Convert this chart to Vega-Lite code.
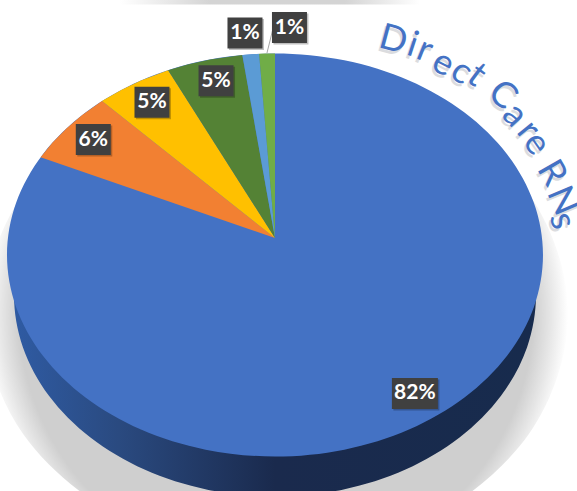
{
  "$schema": "https://vega.github.io/schema/vega-lite/v6.json",
  "width": 577,
  "height": 491,
  "padding": 0,
  "autosize": {"type": "none"},
  "background": "white",
  "view": {"stroke": null},
  "config": {"axis": {"disable": true}},
  "datasets": {
    "shadow": [
      {"seq":0,"x":0.0037,"y":0.8983},{"seq":1,"x":0.5485,"y":0.7387},{"seq":2,"x":0.9473,"y":0.3028},{"seq":3,"x":1.0933,"y":-0.2928},{"seq":4,"x":0.9473,"y":-0.8884},{"seq":5,"x":0.5485,"y":-1.3243},{"seq":6,"x":0.0037,"y":-1.4839},{"seq":7,"x":-0.5411,"y":-1.3243},{"seq":8,"x":-0.9399,"y":-0.8884},{"seq":9,"x":-1.0859,"y":-0.2928},{"seq":10,"x":-0.9399,"y":0.3028},{"seq":11,"x":-0.5411,"y":0.7387}
    ],
    "wall": [
      {"seq":0,"x":0,"y":0.8015},{"seq":1,"x":0.2521,"y":0.7674},{"seq":2,"x":0.4870,"y":0.6675},{"seq":3,"x":0.6886,"y":0.5086},{"seq":4,"x":0.8434,"y":0.3015},{"seq":5,"x":0.9407,"y":0.0603},{"seq":6,"x":0.9739,"y":-0.1985},{"seq":7,"x":0.9407,"y":-0.4573},{"seq":8,"x":0.8434,"y":-0.6985},{"seq":9,"x":0.6886,"y":-0.9056},{"seq":10,"x":0.4870,"y":-1.0645},{"seq":11,"x":0.2521,"y":-1.1644},{"seq":12,"x":0,"y":-1.1985},{"seq":13,"x":-0.2521,"y":-1.1644},{"seq":14,"x":-0.4870,"y":-1.0645},{"seq":15,"x":-0.6886,"y":-0.9056},{"seq":16,"x":-0.8434,"y":-0.6985},{"seq":17,"x":-0.9407,"y":-0.4573},{"seq":18,"x":-0.9739,"y":-0.1985},{"seq":19,"x":-0.9407,"y":0.0603},{"seq":20,"x":-0.8434,"y":0.3015},{"seq":21,"x":-0.6886,"y":0.5086},{"seq":22,"x":-0.4870,"y":0.6675},{"seq":23,"x":-0.2521,"y":0.7674}
    ],
    "face": [
      {"seq":0,"x":0,"y":1},{"seq":1,"x":0.2588,"y":0.9659},{"seq":2,"x":0.5,"y":0.866},{"seq":3,"x":0.7071,"y":0.7071},{"seq":4,"x":0.866,"y":0.5},{"seq":5,"x":0.9659,"y":0.2588},{"seq":6,"x":1,"y":0},{"seq":7,"x":0.9659,"y":-0.2588},{"seq":8,"x":0.866,"y":-0.5},{"seq":9,"x":0.7071,"y":-0.7071},{"seq":10,"x":0.5,"y":-0.866},{"seq":11,"x":0.2588,"y":-0.9659},{"seq":12,"x":0,"y":-1},{"seq":13,"x":-0.2588,"y":-0.9659},{"seq":14,"x":-0.5,"y":-0.866},{"seq":15,"x":-0.7071,"y":-0.7071},{"seq":16,"x":-0.866,"y":-0.5},{"seq":17,"x":-0.9659,"y":-0.2588},{"seq":18,"x":-1,"y":0},{"seq":19,"x":-0.9659,"y":0.2588},{"seq":20,"x":-0.866,"y":0.5},{"seq":21,"x":-0.7071,"y":0.7071},{"seq":22,"x":-0.5,"y":0.866},{"seq":23,"x":-0.2588,"y":0.9659}
    ],
    "slices": [
      {"slice":"B","seq":0,"x":0,"y":0.0844},{"slice":"B","seq":1,"x":-0.8746,"y":0.4848},{"slice":"B","seq":2,"x":-0.8290,"y":0.5592},{"slice":"B","seq":3,"x":-0.7771,"y":0.6293},{"slice":"B","seq":4,"x":-0.7193,"y":0.6947},{"slice":"B","seq":5,"x":-0.6455,"y":0.7638},
      {"slice":"C","seq":0,"x":0,"y":0.0844},{"slice":"C","seq":1,"x":-0.6455,"y":0.7638},{"slice":"C","seq":2,"x":-0.5736,"y":0.8192},{"slice":"C","seq":3,"x":-0.5,"y":0.866},{"slice":"C","seq":4,"x":-0.3987,"y":0.9171},
      {"slice":"D","seq":0,"x":0,"y":0.0844},{"slice":"D","seq":1,"x":-0.3987,"y":0.9171},{"slice":"D","seq":2,"x":-0.3256,"y":0.9455},{"slice":"D","seq":3,"x":-0.2419,"y":0.9703},{"slice":"D","seq":4,"x":-0.1219,"y":0.9925},
      {"slice":"E","seq":0,"x":0,"y":0.0844},{"slice":"E","seq":1,"x":-0.1219,"y":0.9925},{"slice":"E","seq":2,"x":-0.0872,"y":0.9962},{"slice":"E","seq":3,"x":-0.0593,"y":0.9982},
      {"slice":"F","seq":0,"x":0,"y":0.0844},{"slice":"F","seq":1,"x":-0.0593,"y":0.9982},{"slice":"F","seq":2,"x":-0.0349,"y":0.9994},{"slice":"F","seq":3,"x":0,"y":1}
    ],
    "labels": [
      {"slice":"A","share":82,"label":"82%","x":0.522,"y":-0.687},
      {"slice":"B","share":6,"label":"6%","x":-0.678,"y":0.573},
      {"slice":"C","share":5,"label":"5%","x":-0.459,"y":0.758},
      {"slice":"D","share":5,"label":"5%","x":-0.220,"y":0.865},
      {"slice":"E","share":1,"label":"1%","x":-0.112,"y":1.102},
      {"slice":"F","share":1,"label":"1%","x":0.054,"y":1.129}
    ],
    "leader": [
      {"seq":0,"x":-0.007,"y":1.126},
      {"seq":1,"x":-0.030,"y":1.002}
    ],
    "title": [
      {"ch":"D","x":0.4415,"y":1.067,"rot":15},
      {"ch":"i","x":0.5136,"y":1.042,"rot":18},
      {"ch":"r","x":0.5597,"y":1.017,"rot":22},
      {"ch":"e","x":0.628,"y":0.951,"rot":27},
      {"ch":"c","x":0.6965,"y":0.910,"rot":32},
      {"ch":"t","x":0.7525,"y":0.893,"rot":37},
      {"ch":"C","x":0.8495,"y":0.794,"rot":42},
      {"ch":"a","x":0.8955,"y":0.695,"rot":47},
      {"ch":"r","x":0.9452,"y":0.620,"rot":51},
      {"ch":"e","x":0.9764,"y":0.554,"rot":55},
      {"ch":"R","x":1.032,"y":0.407,"rot":60},
      {"ch":"N","x":1.072,"y":0.269,"rot":67},
      {"ch":"s","x":1.072,"y":0.170,"rot":74}
    ],
    "band": [
      {"x":-0.578,"x2":0.541,"y":1.2655,"y2":1.2432}
    ]
  },
  "encoding": {
    "x": {"field": "x", "type": "quantitative", "axis": null, "scale": {"domain": [-1.0261, 1.1269], "nice": false, "zero": false}},
    "y": {"field": "y", "type": "quantitative", "axis": null, "scale": {"domain": [-1.1712, 1.2655], "nice": false, "zero": false}}
  },
  "layer": [
    {
      "data": {"name": "shadow"},
      "mark": {"type": "line", "interpolate": "cardinal-closed", "tension": 0, "strokeWidth": 0,
        "fill": {"gradient": "radial", "x1": 0.5, "y1": 0.5, "r1": 0, "x2": 0.5, "y2": 0.5, "r2": 0.5,
          "stops": [{"offset": 0, "color": "#cfcfcf"}, {"offset": 0.88, "color": "#cfcfcf"}, {"offset": 0.94, "color": "#e6e6e6"}, {"offset": 1, "color": "#ffffff"}]}},
      "encoding": {"order": {"field": "seq"}}
    },
    {
      "data": {"name": "wall"},
      "mark": {"type": "line", "interpolate": "cardinal-closed", "tension": 0, "strokeWidth": 0,
        "fill": {"gradient": "linear", "x1": 0, "y1": 0, "x2": 1, "y2": 0,
          "stops": [{"offset": 0, "color": "#2f5ba3"}, {"offset": 0.2, "color": "#2a4a80"}, {"offset": 0.5, "color": "#1a2a4d"}, {"offset": 1, "color": "#172b4d"}]}},
      "encoding": {"order": {"field": "seq"}}
    },
    {
      "data": {"name": "face"},
      "mark": {"type": "line", "interpolate": "cardinal-closed", "tension": 0, "strokeWidth": 0, "fill": "#4472c4"},
      "encoding": {"order": {"field": "seq"}}
    },
    {
      "data": {"name": "slices"},
      "transform": [{"filter": "datum.slice === 'B'"}],
      "mark": {"type": "line", "interpolate": "linear-closed", "strokeWidth": 0, "fill": "#f28032"},
      "encoding": {"order": {"field": "seq"}}
    },
    {
      "data": {"name": "slices"},
      "transform": [{"filter": "datum.slice === 'C'"}],
      "mark": {"type": "line", "interpolate": "linear-closed", "strokeWidth": 0, "fill": "#ffc000"},
      "encoding": {"order": {"field": "seq"}}
    },
    {
      "data": {"name": "slices"},
      "transform": [{"filter": "datum.slice === 'D'"}],
      "mark": {"type": "line", "interpolate": "linear-closed", "strokeWidth": 0, "fill": "#548235"},
      "encoding": {"order": {"field": "seq"}}
    },
    {
      "data": {"name": "slices"},
      "transform": [{"filter": "datum.slice === 'E'"}],
      "mark": {"type": "line", "interpolate": "linear-closed", "strokeWidth": 0, "fill": "#5b9bd5"},
      "encoding": {"order": {"field": "seq"}}
    },
    {
      "data": {"name": "slices"},
      "transform": [{"filter": "datum.slice === 'F'"}],
      "mark": {"type": "line", "interpolate": "linear-closed", "strokeWidth": 0, "fill": "#70ad47"},
      "encoding": {"order": {"field": "seq"}}
    },
    {
      "data": {"name": "leader"},
      "mark": {"type": "line", "stroke": "#a6a6a6", "strokeWidth": 1},
      "encoding": {"order": {"field": "seq"}}
    },
    {
      "data": {"name": "labels"},
      "transform": [{"filter": "datum.share < 10"}],
      "mark": {"type": "rect", "width": 35, "height": 31, "fill": "#000000", "opacity": 0.25, "xOffset": 1.5, "yOffset": 1.5}
    },
    {
      "data": {"name": "labels"},
      "transform": [{"filter": "datum.share >= 10"}],
      "mark": {"type": "rect", "width": 46, "height": 31, "fill": "#000000", "opacity": 0.25, "xOffset": 1.5, "yOffset": 1.5}
    },
    {
      "data": {"name": "labels"},
      "transform": [{"filter": "datum.share < 10"}],
      "mark": {"type": "rect", "width": 35, "height": 31, "fill": "#404040"}
    },
    {
      "data": {"name": "labels"},
      "transform": [{"filter": "datum.share >= 10"}],
      "mark": {"type": "rect", "width": 46, "height": 31, "fill": "#404040"}
    },
    {
      "data": {"name": "labels"},
      "mark": {"type": "text", "font": "Lato", "fontWeight": "bold", "fontSize": 21, "fill": "#ffffff", "align": "center", "baseline": "middle"},
      "encoding": {"text": {"field": "label"}}
    },
    {
      "data": {"name": "title"},
      "mark": {"type": "text", "font": "Lato", "fontSize": 36, "fill": "#8a8f99", "opacity": 0.3, "align": "center", "baseline": "middle", "xOffset": -2, "yOffset": 3},
      "encoding": {"text": {"field": "ch"}, "angle": {"field": "rot", "type": "quantitative", "scale": null}}
    },
    {
      "data": {"name": "title"},
      "mark": {"type": "text", "font": "Lato", "fontSize": 36, "fill": "#4472c4", "align": "center", "baseline": "middle"},
      "encoding": {"text": {"field": "ch"}, "angle": {"field": "rot", "type": "quantitative", "scale": null}}
    },
    {
      "data": {"name": "band"},
      "mark": {"type": "rect",
        "fill": {"gradient": "linear", "x1": 0, "y1": 0, "x2": 1, "y2": 0,
          "stops": [{"offset": 0, "color": "#ffffff"}, {"offset": 0.3, "color": "#d4d4d4"}, {"offset": 0.75, "color": "#d4d4d4"}, {"offset": 1, "color": "#ffffff"}]}},
      "encoding": {"x2": {"field": "x2"}, "y2": {"field": "y2"}}
    }
  ]
}
